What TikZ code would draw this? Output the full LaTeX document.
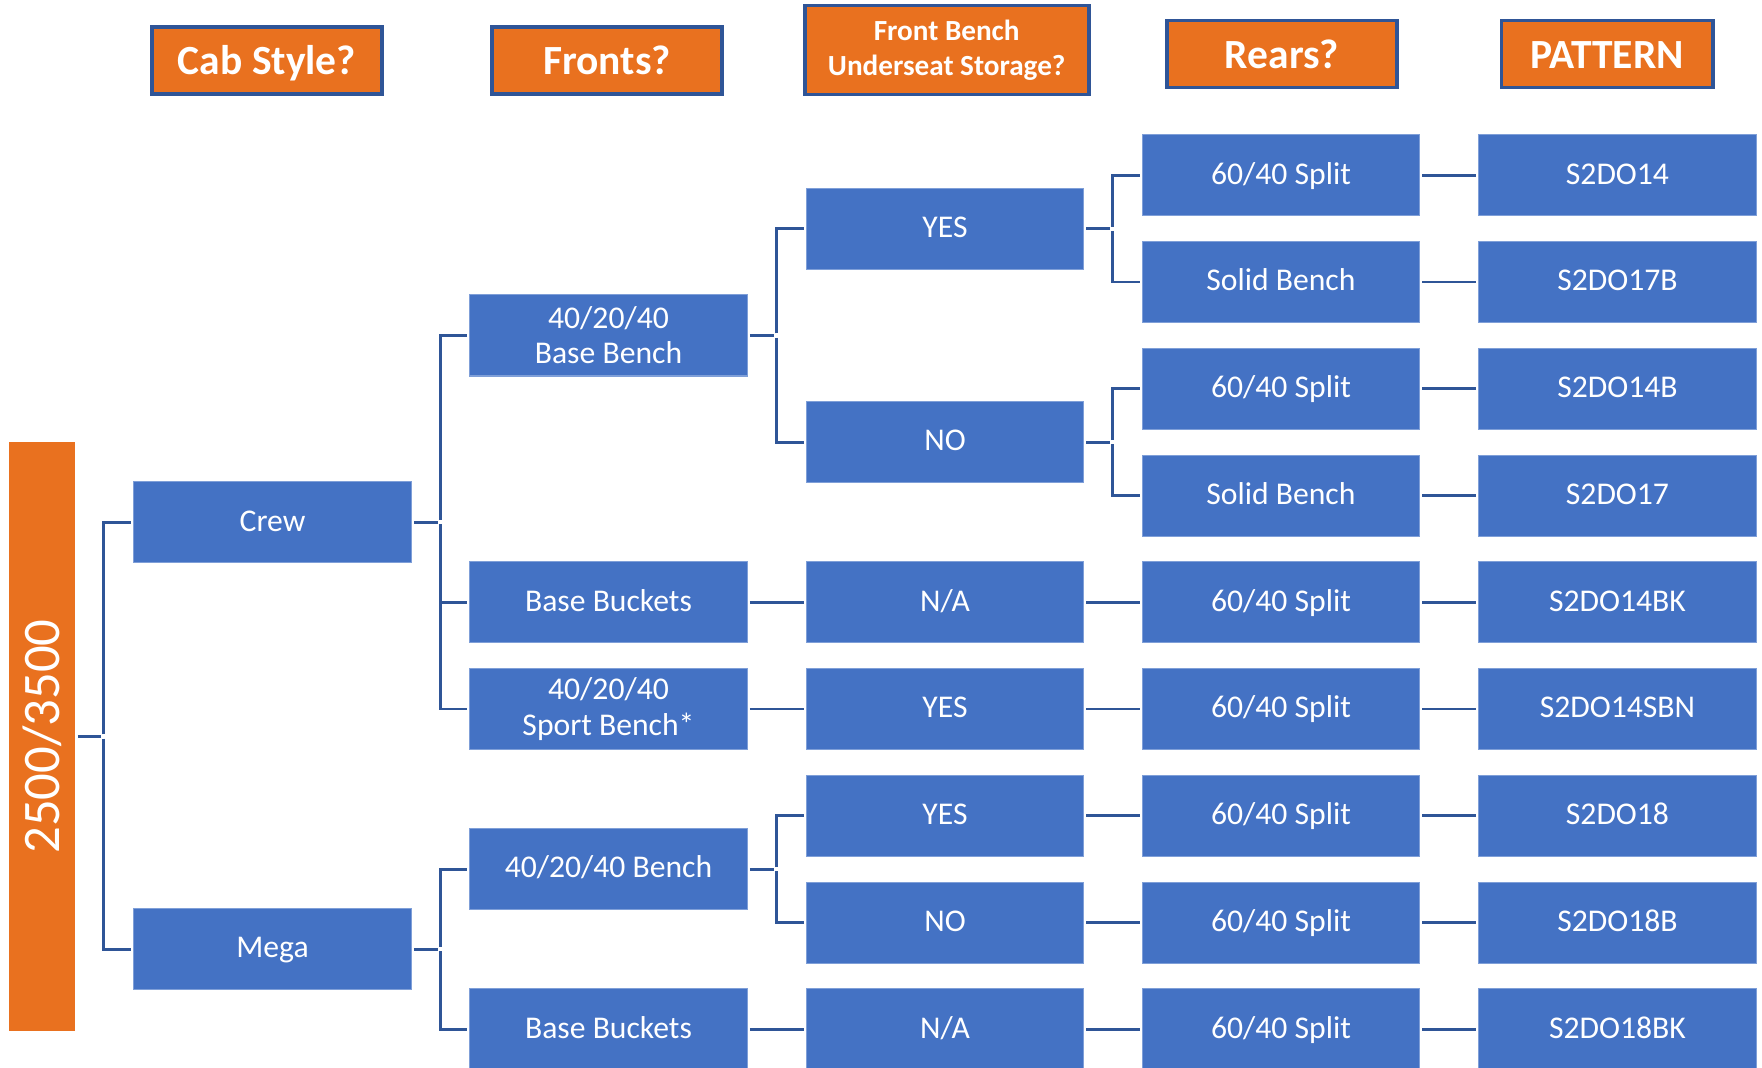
\documentclass[tikz,border=0pt]{standalone}
\usepackage{fontspec}
\setmainfont{Carlito}
\usepackage{tikz}
\usetikzlibrary{positioning}
\definecolor{boxblue}{HTML}{4472C4}
\definecolor{hdrorange}{HTML}{E9711F}
\definecolor{linkblue}{HTML}{2F5597}
\definecolor{edgeblue}{HTML}{7F9FD8}
\tikzstyle{choice} = [fill=boxblue, draw=edgeblue, line width=0.3pt, text=white, minimum width=2.775cm, minimum height=0.81cm, align=center, inner sep=0pt, font=\fontsize{9}{10}\selectfont]
\tikzstyle{item} = [choice, text height=6.8pt, text depth=1.8pt]
\tikzstyle{header} = [fill=hdrorange, draw=linkblue, line width=1.1pt, text=white, minimum width=2.3cm, minimum height=0.67cm, align=center, inner sep=0pt, text height=10.4pt, text depth=2.3pt, font=\fontsize{11.8}{13}\selectfont\bfseries]
\tikzstyle{link} = [draw=linkblue, line width=0.75pt, shorten <=0.6pt, shorten >=0.6pt]

\begin{document}
\begin{tikzpicture}[x=0.01cm, y=-0.01cm]
\useasboundingbox (0,0) rectangle (1762,1068);

% Headers
\node[header] (hcab) at (267,60.7) {Cab Style?};
\node[header] (hfront) at (607,60.7) {Fronts?};
\node[fill=hdrorange, draw=linkblue, line width=1.1pt, text=white, minimum width=2.84cm, minimum height=0.89cm, align=center, inner sep=0pt, font=\fontsize{8.3}{10}\selectfont\bfseries] (hstore) at (946.7,50) {Front Bench\\Underseat Storage?};
\node[header] (hrear) at (1282,54) {Rears?};
\node[header, minimum width=2.11cm] (hpat) at (1607,54) {PATTERN};

% Root bar
\node[fill=hdrorange, text=white, minimum width=0.66cm, minimum height=5.88cm, inner sep=0pt, font=\fontsize{15}{18}\selectfont] (root) at (42,736.6) {\rotatebox{90}{2500/3500}};

% Cab style
\node[item] (crew) at (272.5,522.3) {Crew};
\node[item] (mega) at (272.5,949.2) {Mega};

% Fronts
\node[choice] (basebench) at (608.5,335.5) {40/20/40\\Base Bench};
\node[item] (buckets) at (608.5,602.3) {Base Buckets};
\node[choice] (sport) at (608.5,709.1) {40/20/40\\Sport Bench*};
\node[item] (bench) at (608.5,869.2) {40/20/40 Bench};
\node[item] (megabuckets) at (608.5,1029.3) {Base Buckets};

% Underseat storage
\node[item] (yesa) at (945,228.7) {YES};
\node[item] (noa) at (945,442.2) {NO};
\node[item] (naa) at (945,602.3) {N/A};
\node[item] (yesb) at (945,709.1) {YES};
\node[item] (yesc) at (945,815.8) {YES};
\node[item] (nob) at (945,922.6) {NO};
\node[item] (nab) at (945,1029.3) {N/A};

% Rears
\node[item] (reara) at (1281,175.3) {60/40 Split};
\node[item] (rearb) at (1281,282.1) {Solid Bench};
\node[item] (rearc) at (1281,388.8) {60/40 Split};
\node[item] (reard) at (1281,495.6) {Solid Bench};
\node[item] (reare) at (1281,602.3) {60/40 Split};
\node[item] (rearf) at (1281,709.1) {60/40 Split};
\node[item] (rearg) at (1281,815.8) {60/40 Split};
\node[item] (rearh) at (1281,922.6) {60/40 Split};
\node[item] (reari) at (1281,1029.3) {60/40 Split};

% Patterns
\node[item] (pata) at (1617.5,175.3) {S2DO14};
\node[item] (patb) at (1617.5,282.1) {S2DO17B};
\node[item] (patc) at (1617.5,388.8) {S2DO14B};
\node[item] (patd) at (1617.5,495.6) {S2DO17};
\node[item] (pate) at (1617.5,602.3) {S2DO14BK};
\node[item] (patf) at (1617.5,709.1) {S2DO14SBN};
\node[item] (patg) at (1617.5,815.8) {S2DO18};
\node[item] (path) at (1617.5,922.6) {S2DO18B};
\node[item] (pati) at (1617.5,1029.3) {S2DO18BK};

% Junctions
\coordinate (jroot) at (103.4,736.6);
\coordinate (jcrew) at (440.5,522.3);
\coordinate (jmega) at (440.5,949.2);
\coordinate (jbase) at (776.5,335.5);
\coordinate (jbench) at (776.5,869.2);
\coordinate (jyes) at (1112.5,228.7);
\coordinate (jno) at (1112.5,442.2);

% Tree links
\draw[link] (root.east) -- (jroot);
\draw[link] (jroot) |- (crew.west);
\draw[link] (jroot) |- (mega.west);
\draw[link] (crew.east) -- (jcrew);
\draw[link] (jcrew) |- (basebench.west);
\draw[link] (jcrew) |- (buckets.west);
\draw[link] (jcrew) |- (sport.west);
\draw[link] (mega.east) -- (jmega);
\draw[link] (jmega) |- (bench.west);
\draw[link] (jmega) |- (megabuckets.west);
\draw[link] (basebench.east) -- (jbase);
\draw[link] (jbase) |- (yesa.west);
\draw[link] (jbase) |- (noa.west);
\draw[link] (bench.east) -- (jbench);
\draw[link] (jbench) |- (yesc.west);
\draw[link] (jbench) |- (nob.west);
\draw[link] (yesa.east) -- (jyes);
\draw[link] (jyes) |- (reara.west);
\draw[link] (jyes) |- (rearb.west);
\draw[link] (noa.east) -- (jno);
\draw[link] (jno) |- (rearc.west);
\draw[link] (jno) |- (reard.west);

% Straight links
\draw[link] (buckets) -- (naa);
\draw[link] (sport) -- (yesb);
\draw[link] (megabuckets) -- (nab);
\draw[link] (naa) -- (reare);
\draw[link] (yesb) -- (rearf);
\draw[link] (yesc) -- (rearg);
\draw[link] (nob) -- (rearh);
\draw[link] (nab) -- (reari);
\draw[link] (reara) -- (pata);
\draw[link] (rearb) -- (patb);
\draw[link] (rearc) -- (patc);
\draw[link] (reard) -- (patd);
\draw[link] (reare) -- (pate);
\draw[link] (rearf) -- (patf);
\draw[link] (rearg) -- (patg);
\draw[link] (rearh) -- (path);
\draw[link] (reari) -- (pati);
\end{tikzpicture}
\end{document}
